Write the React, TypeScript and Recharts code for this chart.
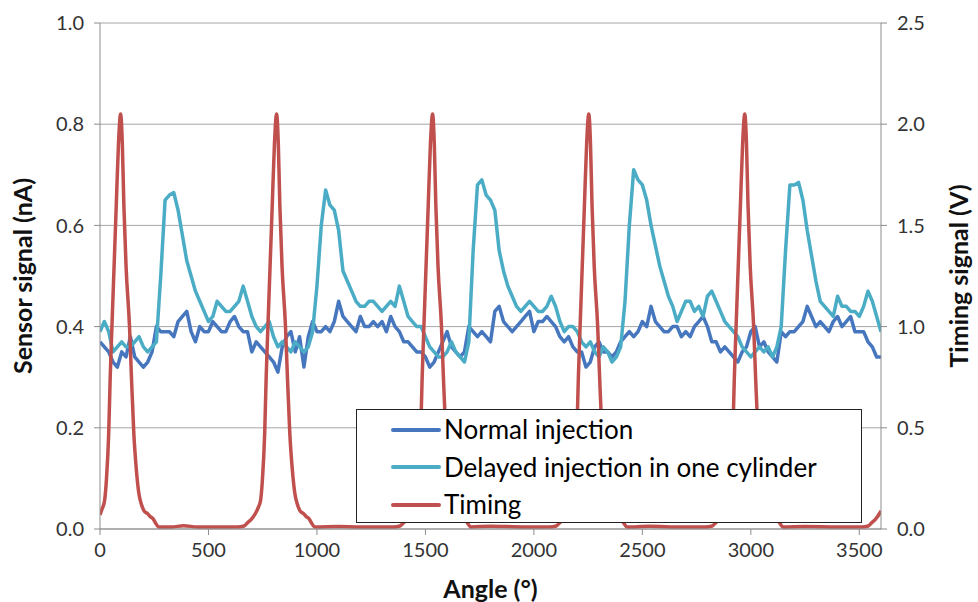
import React from "react";
import {
  ComposedChart,
  Line,
  XAxis,
  YAxis,
  CartesianGrid,
  Legend,
} from "recharts";

// Sensor signals sampled every 20 degrees (0 - 3600)
const angles = [
  0, 20, 40, 60, 80, 100, 120, 140, 160, 180, 200, 220, 240, 260, 280, 300, 320, 340, 360, 380,
  400, 420, 440, 460, 480, 500, 520, 540, 560, 580, 600, 620, 640, 660, 680, 700, 720, 740, 760, 780,
  800, 820, 840, 860, 880, 900, 920, 940, 960, 980, 1000, 1020, 1040, 1060, 1080, 1100, 1120, 1140, 1160, 1180,
  1200, 1220, 1240, 1260, 1280, 1300, 1320, 1340, 1360, 1380, 1400, 1420, 1440, 1460, 1480, 1500, 1520, 1540, 1560, 1580,
  1600, 1620, 1640, 1660, 1680, 1700, 1720, 1740, 1760, 1780, 1800, 1820, 1840, 1860, 1880, 1900, 1920, 1940, 1960, 1980,
  2000, 2020, 2040, 2060, 2080, 2100, 2120, 2140, 2160, 2180, 2200, 2220, 2240, 2260, 2280, 2300, 2320, 2340, 2360, 2380,
  2400, 2420, 2440, 2460, 2480, 2500, 2520, 2540, 2560, 2580, 2600, 2620, 2640, 2660, 2680, 2700, 2720, 2740, 2760, 2780,
  2800, 2820, 2840, 2860, 2880, 2900, 2920, 2940, 2960, 2980, 3000, 3020, 3040, 3060, 3080, 3100, 3120, 3140, 3160, 3180,
  3200, 3220, 3240, 3260, 3280, 3300, 3320, 3340, 3360, 3380, 3400, 3420, 3440, 3460, 3480, 3500, 3520, 3540, 3560, 3580,
  3600,
];

const normalInjection = [
  0.37, 0.36, 0.35, 0.33, 0.32, 0.35, 0.34, 0.38, 0.34, 0.33, 0.32, 0.33, 0.35, 0.40, 0.39, 0.39, 0.39, 0.38, 0.41, 0.42,
  0.43, 0.39, 0.37, 0.40, 0.39, 0.39, 0.41, 0.40, 0.39, 0.39, 0.41, 0.42, 0.40, 0.39, 0.39, 0.35, 0.37, 0.36, 0.35, 0.34,
  0.33, 0.31, 0.36, 0.38, 0.39, 0.35, 0.38, 0.32, 0.38, 0.41, 0.39, 0.39, 0.40, 0.39, 0.41, 0.45, 0.42, 0.41, 0.40, 0.39,
  0.42, 0.40, 0.40, 0.41, 0.40, 0.41, 0.39, 0.42, 0.40, 0.39, 0.37, 0.37, 0.36, 0.35, 0.35, 0.34, 0.32, 0.33, 0.35, 0.37,
  0.39, 0.36, 0.35, 0.34, 0.35, 0.40, 0.39, 0.38, 0.39, 0.38, 0.37, 0.43, 0.44, 0.41, 0.40, 0.39, 0.40, 0.41, 0.42, 0.43,
  0.39, 0.41, 0.41, 0.42, 0.41, 0.40, 0.38, 0.37, 0.38, 0.36, 0.35, 0.35, 0.32, 0.33, 0.36, 0.37, 0.35, 0.35, 0.34, 0.35,
  0.37, 0.38, 0.39, 0.38, 0.39, 0.41, 0.40, 0.44, 0.41, 0.40, 0.39, 0.39, 0.40, 0.40, 0.38, 0.39, 0.38, 0.40, 0.41, 0.42,
  0.40, 0.37, 0.37, 0.35, 0.36, 0.35, 0.34, 0.33, 0.35, 0.36, 0.39, 0.40, 0.36, 0.37, 0.35, 0.34, 0.33, 0.39, 0.38, 0.39,
  0.39, 0.40, 0.41, 0.44, 0.42, 0.40, 0.41, 0.40, 0.39, 0.41, 0.42, 0.40, 0.41, 0.42, 0.39, 0.39, 0.39, 0.37, 0.36, 0.34,
  0.34,
];

const delayedInjection = [
  0.39, 0.41, 0.39, 0.35, 0.36, 0.37, 0.36, 0.36, 0.37, 0.38, 0.36, 0.35, 0.36, 0.37, 0.50, 0.65, 0.66, 0.665, 0.63, 0.58,
  0.53, 0.50, 0.47, 0.45, 0.43, 0.41, 0.42, 0.45, 0.44, 0.43, 0.43, 0.44, 0.45, 0.48, 0.45, 0.42, 0.40, 0.39, 0.40, 0.41,
  0.38, 0.36, 0.37, 0.36, 0.35, 0.37, 0.36, 0.35, 0.36, 0.39, 0.48, 0.60, 0.67, 0.64, 0.63, 0.59, 0.51, 0.49, 0.47, 0.45,
  0.44, 0.44, 0.45, 0.45, 0.44, 0.43, 0.44, 0.45, 0.44, 0.48, 0.45, 0.42, 0.41, 0.40, 0.40, 0.38, 0.36, 0.35, 0.34, 0.34,
  0.35, 0.37, 0.35, 0.34, 0.33, 0.37, 0.55, 0.68, 0.69, 0.66, 0.65, 0.63, 0.55, 0.51, 0.48, 0.46, 0.44, 0.43, 0.44, 0.45,
  0.44, 0.43, 0.43, 0.44, 0.46, 0.44, 0.41, 0.39, 0.40, 0.40, 0.39, 0.37, 0.36, 0.37, 0.35, 0.34, 0.36, 0.35, 0.33, 0.34,
  0.36, 0.45, 0.60, 0.71, 0.69, 0.68, 0.65, 0.60, 0.56, 0.52, 0.49, 0.46, 0.44, 0.41, 0.43, 0.45, 0.45, 0.43, 0.44, 0.42,
  0.46, 0.47, 0.45, 0.43, 0.41, 0.40, 0.39, 0.38, 0.36, 0.35, 0.34, 0.35, 0.36, 0.35, 0.36, 0.34, 0.36, 0.40, 0.55, 0.68,
  0.68, 0.685, 0.65, 0.59, 0.54, 0.49, 0.45, 0.44, 0.43, 0.42, 0.46, 0.44, 0.44, 0.43, 0.43, 0.42, 0.44, 0.47, 0.45, 0.42,
  0.39,
];

// Timing signal (V), sampled more densely around the pulses
const timingAngles = [
  0, 10, 21, 30, 40, 47, 55, 65, 75, 85, 95, 103, 110, 120, 136, 145, 156, 167, 180, 190,
  203, 220, 233, 245, 256, 272, 330, 385, 450, 560,
  634, 664, 679, 699, 717, 729, 740, 749, 759, 766, 774, 784, 794, 804, 814, 822, 829, 839, 855, 864,
  875, 886, 899, 909, 922, 939, 952, 964, 975, 991, 1100, 1200, 1290,
  1353, 1383, 1398, 1418, 1436, 1448, 1459, 1468, 1478, 1485, 1493, 1503, 1513, 1523, 1533, 1541, 1548, 1558, 1574, 1583,
  1594, 1605, 1618, 1628, 1641, 1658, 1671, 1683, 1694, 1710, 1800, 1950,
  2073, 2103, 2118, 2138, 2156, 2168, 2179, 2188, 2198, 2205, 2213, 2223, 2233, 2243, 2253, 2261, 2268, 2278, 2294, 2303,
  2314, 2325, 2338, 2348, 2361, 2378, 2391, 2403, 2414, 2430, 2530, 2680,
  2792, 2822, 2837, 2857, 2875, 2887, 2898, 2907, 2917, 2924, 2932, 2942, 2952, 2962, 2972, 2980, 2987, 2997, 3013, 3022,
  3033, 3044, 3057, 3067, 3080, 3097, 3110, 3122, 3133, 3149, 3250, 3400,
  3511, 3541, 3556, 3576, 3594, 3600,
];

const timingVolts = [
  0.07, 0.1, 0.14, 0.25, 0.47, 0.75, 1.0, 1.3, 1.6, 1.9, 2.05, 1.9, 1.6, 1.3, 1.0, 0.75, 0.47, 0.3, 0.17, 0.125,
  0.09, 0.075, 0.06, 0.05, 0.03, 0.01, 0.01, 0.016, 0.01, 0.01,
  0.01, 0.015, 0.03, 0.05, 0.078, 0.105, 0.14, 0.25, 0.47, 0.75, 1.0, 1.3, 1.6, 1.9, 2.05, 1.9, 1.6, 1.3, 1.0, 0.75,
  0.47, 0.3, 0.17, 0.125, 0.09, 0.075, 0.06, 0.05, 0.03, 0.01, 0.012, 0.01, 0.01,
  0.01, 0.015, 0.03, 0.05, 0.078, 0.105, 0.14, 0.25, 0.47, 0.75, 1.0, 1.3, 1.6, 1.9, 2.05, 1.9, 1.6, 1.3, 1.0, 0.75,
  0.47, 0.3, 0.17, 0.125, 0.09, 0.075, 0.06, 0.05, 0.03, 0.01, 0.014, 0.01,
  0.01, 0.015, 0.03, 0.05, 0.078, 0.105, 0.14, 0.25, 0.47, 0.75, 1.0, 1.3, 1.6, 1.9, 2.05, 1.9, 1.6, 1.3, 1.0, 0.75,
  0.47, 0.3, 0.17, 0.125, 0.09, 0.075, 0.06, 0.05, 0.03, 0.01, 0.013, 0.01,
  0.01, 0.015, 0.03, 0.05, 0.078, 0.105, 0.14, 0.25, 0.47, 0.75, 1.0, 1.3, 1.6, 1.9, 2.05, 1.9, 1.6, 1.3, 1.0, 0.75,
  0.47, 0.3, 0.17, 0.125, 0.09, 0.075, 0.06, 0.05, 0.03, 0.01, 0.012, 0.01,
  0.01, 0.015, 0.03, 0.05, 0.078, 0.09,
];

const xTicks = [0, 500, 1000, 1500, 2000, 2500, 3000, 3500];
const leftTicks = [0, 0.2, 0.4, 0.6, 0.8, 1.0];
const rightTicks = [0, 0.5, 1.0, 1.5, 2.0, 2.5];

const COLORS = {
  normal: "#4677BE",
  delayed: "#4BACC6",
  timing: "#C0504D",
};

const legendItems = [
  { label: "Normal injection", color: COLORS.normal },
  { label: "Delayed injection in one cylinder", color: COLORS.delayed },
  { label: "Timing", color: COLORS.timing },
];

const sensorData = angles.map((angle, i) => ({
  angle,
  normal: normalInjection[i],
  delayed: delayedInjection[i],
}));

const timingData = timingAngles.map((angle, i) => ({
  angle,
  timing: timingVolts[i],
}));

const FONT = "Lato, 'Open Sans', sans-serif";
const tickStyle = { fontSize: 20, fill: "#333", fontFamily: FONT };
const titleStyle = { fontSize: 25, fontWeight: 700, fill: "#111", fontFamily: FONT };
const AXIS_GREY = "#8c8c8c";

// rotated axis title, placed relative to the axis viewBox
function SideTitle({ viewBox, value, dx }: any) {
  const x = viewBox.x + dx;
  const y = viewBox.y + viewBox.height / 2;
  return (
    <text
      x={x}
      y={y}
      transform={`rotate(-90 ${x} ${y})`}
      textAnchor="middle"
      dominantBaseline="central"
      style={titleStyle}
    >
      {value}
    </text>
  );
}

function BottomTitle({ viewBox, value }: any) {
  const x = viewBox.x + viewBox.width / 2;
  const y = viewBox.y + 59;
  return (
    <text x={x} y={y} textAnchor="middle" dominantBaseline="central" style={titleStyle}>
      {value}
    </text>
  );
}

function ChartLegend() {
  return (
    <div
      style={{
        width: 506,
        height: 114,
        boxSizing: "border-box",
        border: "1.5px solid #222",
        background: "#fff",
        fontFamily: FONT,
        fontSize: 26,
        color: "#000",
        paddingTop: 1,
      }}
    >
      {legendItems.map((item) => (
        <div
          key={item.label}
          style={{ display: "flex", alignItems: "center", height: 37.5, lineHeight: "37px" }}
        >
          <div
            style={{
              marginLeft: 34,
              width: 50,
              height: 4,
              borderRadius: 2,
              background: item.color,
              marginRight: 3,
            }}
          />
          <span>{item.label}</span>
        </div>
      ))}
    </div>
  );
}

export default function App() {
  return (
    <div
      style={{
        position: "absolute",
        left: 0,
        top: 0,
        width: 978,
        height: 602,
        background: "#fff",
      }}
    >
      <ComposedChart
        width={978}
        height={602}
        margin={{ top: 23, right: 0, bottom: 0, left: 0 }}
      >
        <CartesianGrid
          yAxisId="left"
          vertical={false}
          stroke="#a6a6a6"
          strokeWidth={1}
        />
        <XAxis
          dataKey="angle"
          type="number"
          domain={[0, 3600]}
          ticks={xTicks}
          allowDataOverflow
          height={73}
          tick={tickStyle}
          tickMargin={8}
          tickSize={6}
          stroke={AXIS_GREY}
          label={(props: any) => <BottomTitle {...props} value="Angle (°)" />}
        />
        <YAxis
          yAxisId="left"
          domain={[0, 1]}
          ticks={leftTicks}
          width={100}
          tick={tickStyle}
          tickFormatter={(v: number) => v.toFixed(1)}
          tickSize={6}
          tickMargin={10}
          stroke={AXIS_GREY}
          label={(props: any) => (
            <SideTitle {...props} value="Sensor signal (nA)" dx={22} />
          )}
        />
        <YAxis
          yAxisId="right"
          orientation="right"
          domain={[0, 2.5]}
          ticks={rightTicks}
          width={97}
          tick={tickStyle}
          tickFormatter={(v: number) => v.toFixed(1)}
          tickSize={6}
          tickMargin={10}
          stroke={AXIS_GREY}
          label={(props: any) => (
            <SideTitle {...props} value="Timing signal (V)" dx={77} />
          )}
        />
        <Line
          yAxisId="left"
          data={sensorData}
          dataKey="normal"
          type="linear"
          stroke={COLORS.normal}
          strokeWidth={3.5}
          strokeLinejoin="round"
          dot={false}
          activeDot={false}
          isAnimationActive={false}
        />
        <Line
          yAxisId="left"
          data={sensorData}
          dataKey="delayed"
          type="linear"
          stroke={COLORS.delayed}
          strokeWidth={3.5}
          strokeLinejoin="round"
          dot={false}
          activeDot={false}
          isAnimationActive={false}
        />
        <Line
          yAxisId="right"
          data={timingData}
          dataKey="timing"
          type="monotone"
          stroke={COLORS.timing}
          strokeWidth={3.5}
          strokeLinejoin="round"
          dot={false}
          activeDot={false}
          isAnimationActive={false}
        />
        <Legend
          layout="horizontal"
          align="center"
          verticalAlign="middle"
          content={() => <ChartLegend />}
          wrapperStyle={{ left: 356, top: 409, width: 506, height: 114 }}
        />
      </ComposedChart>
    </div>
  );
}
